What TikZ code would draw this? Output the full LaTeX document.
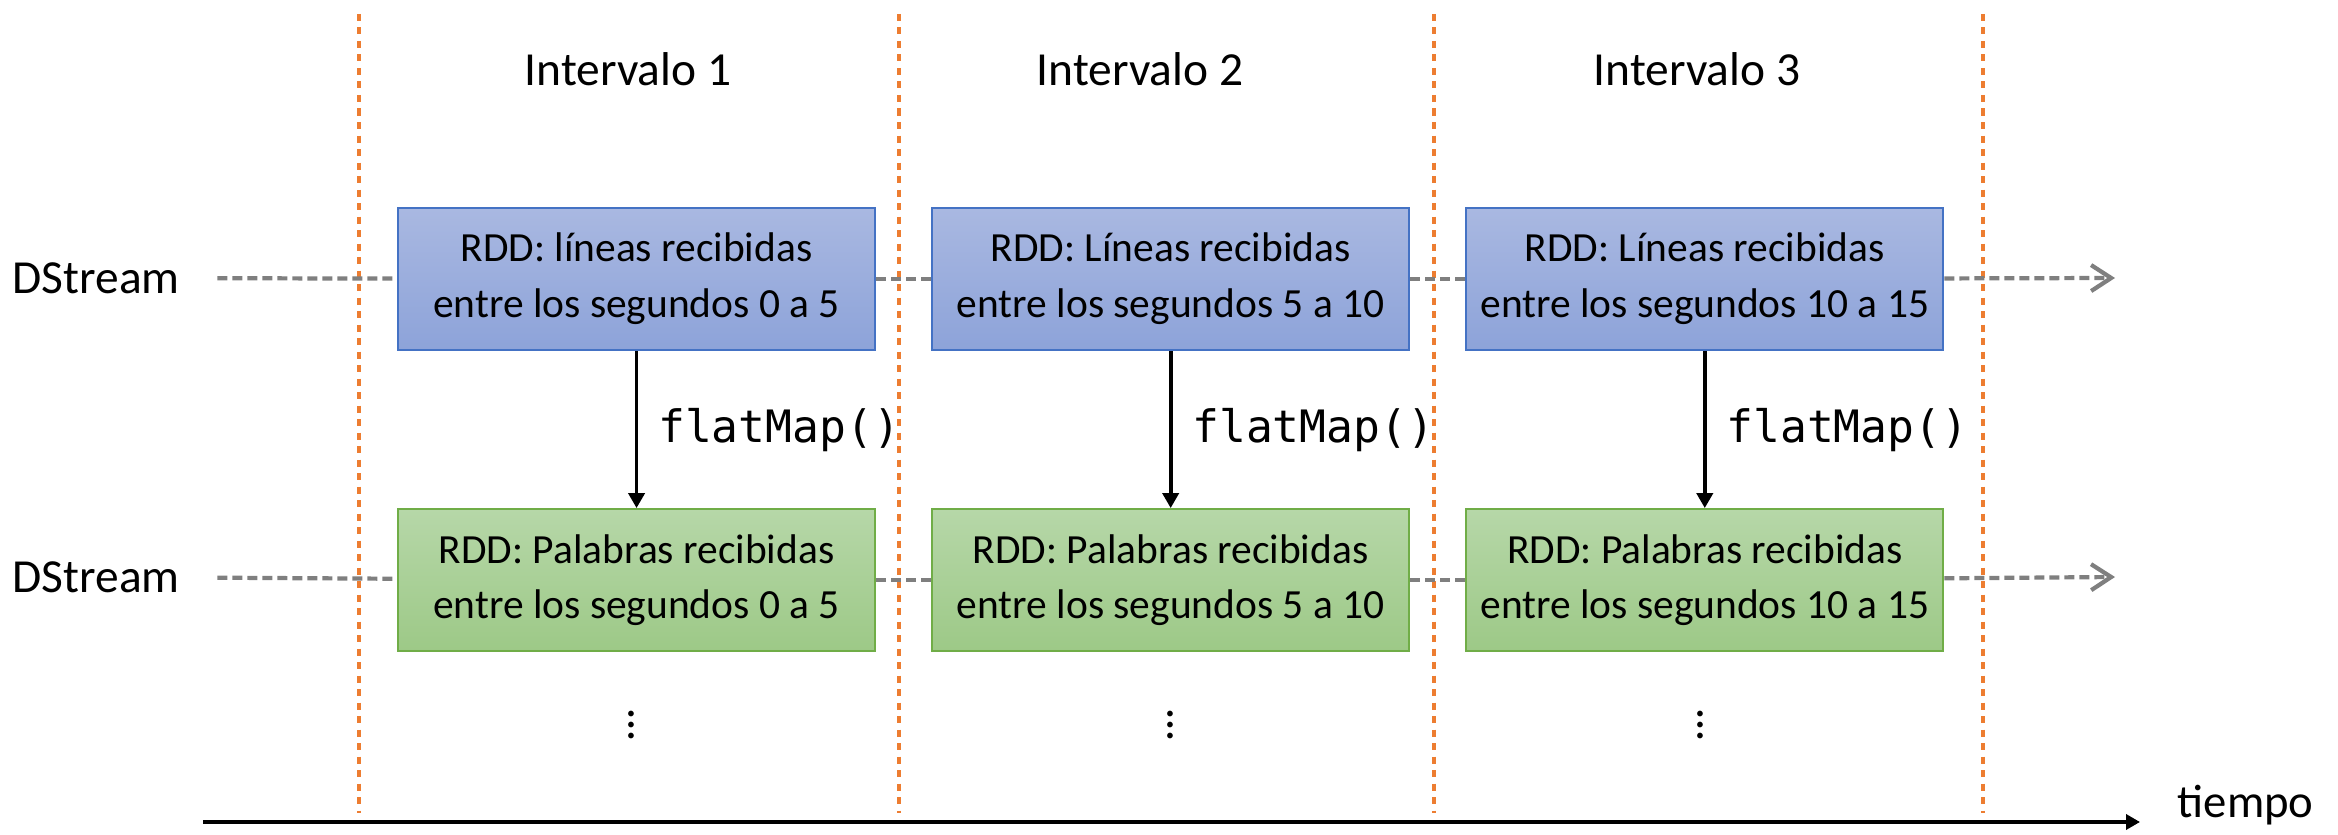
\documentclass[tikz,border=0pt]{standalone}
\usepackage{fontspec}
\setmainfont{Carlito}
\setmonofont{DejaVu Sans Mono}
\usepackage{tikz}
\usetikzlibrary{arrows.meta}
\usetikzlibrary{positioning}

\definecolor{bordeazul}{HTML}{4472C4}
\definecolor{azularriba}{HTML}{A9B8E1}
\definecolor{azulabajo}{HTML}{8DA3D9}
\definecolor{bordeverde}{HTML}{70AD47}
\definecolor{verdearriba}{HTML}{B6D7A8}
\definecolor{verdeabajo}{HTML}{9DC987}
\definecolor{grisflujo}{HTML}{7F7F7F}
\definecolor{naranja}{HTML}{ED7D31}

\newcommand{\puntos}{\vbox{\baselineskip=3.2pt \lineskiplimit=0pt \hbox{.}\hbox{.}\hbox{.}}}

\begin{document}
\begin{tikzpicture}[font=\fontsize{13.5}{16}\selectfont]
		\useasboundingbox (0,0) rectangle (23.38,8.34);
		\tikzstyle{lineas}=[draw=bordeazul, line width=0.6pt, top color=azularriba, bottom color=azulabajo, minimum width=4.77cm, minimum height=1.42cm, align=center, inner sep=0pt, font=\fontsize{11.8}{15.9}\selectfont]
		\tikzstyle{palabras}=[draw=bordeverde, line width=0.6pt, top color=verdearriba, bottom color=verdeabajo, minimum width=4.77cm, minimum height=1.42cm, align=center, inner sep=0pt, font=\fontsize{11.8}{15.9}\selectfont]
		\tikzstyle{flujo}=[draw=grisflujo, line width=1.2pt, dash pattern=on 0.1cm off 0.05cm]
		\tikzstyle{corte}=[draw=naranja, line width=0.9pt, dash pattern=on 0.07cm off 0.065cm]
		\tikzstyle{baja}=[line width=1.1pt, -{Triangle[length=1.5mm,width=1.6mm]}]
		\tikzstyle{codigo}=[font=\ttfamily\fontsize{12.7}{15}\selectfont]
		% limites de los intervalos
		\draw[corte] (3.59,8.20) -- (3.59,0.21);
		\draw[corte] (8.99,8.20) -- (8.99,0.21);
		\draw[corte] (14.34,8.20) -- (14.34,0.21);
		\draw[corte] (19.83,8.20) -- (19.83,0.21);
		\node (int1) at (6.28,7.65) {Intervalo 1};
		\node (int2) at (11.40,7.65) {Intervalo 2};
		\node (int3) at (16.97,7.65) {Intervalo 3};
		% RDDs
		\node[lineas, anchor=north west] (lin1) at (3.97,6.27)
		{RDD: líneas recibidas\\entre los segundos 0 a 5};
		\node[lineas, right=0.55cm of lin1] (lin2)
		{RDD: Líneas recibidas\\entre los segundos 5 a 10};
		\node[lineas, right=0.55cm of lin2] (lin3)
		{RDD: Líneas recibidas\\entre los segundos 10 a 15};
		\node[palabras, below=1.57cm of lin1] (pal1)
		{RDD: Palabras recibidas\\entre los segundos 0 a 5};
		\node[palabras, below=1.57cm of lin2] (pal2)
		{RDD: Palabras recibidas\\entre los segundos 5 a 10};
		\node[palabras, below=1.57cm of lin3] (pal3)
		{RDD: Palabras recibidas\\entre los segundos 10 a 15};
		% DStreams
		\node[anchor=west, inner sep=0pt] (ds1) at (0.12,5.56) {DStream};
		\node[anchor=west, inner sep=0pt] (ds2) at (0.12,2.57) {DStream};
		\coordinate (fin1) at (21.15,5.56);
		\coordinate (fin2) at (21.15,2.57);
		\draw[flujo, shorten <=0.37cm] (ds1) -- (lin1);
		\draw[flujo] (lin1) -- (lin2);
		\draw[flujo] (lin2) -- (lin3);
		\draw[flujo, -{Straight Barb[length=2mm,width=2.6mm]}] (lin3) -- (fin1);
		\draw[flujo, shorten <=0.37cm] (ds2) -- (pal1);
		\draw[flujo] (pal1) -- (pal2);
		\draw[flujo] (pal2) -- (pal3);
		\draw[flujo, -{Straight Barb[length=2mm,width=2.6mm]}] (pal3) -- (fin2);
		% transformaciones
		\draw[baja] (lin1) -- node[codigo, right=0.08cm] {flatMap()} (pal1);
		\draw[baja] (lin2) -- node[codigo, right=0.08cm] {flatMap()} (pal2);
		\draw[baja] (lin3) -- node[codigo, right=0.08cm] {flatMap()} (pal3);
		\node (pts1) at (6.31,1.09) {\puntos};
		\node (pts2) at (11.70,1.09) {\puntos};
		\node (pts3) at (17.00,1.09) {\puntos};
		% eje del tiempo
		\coordinate (t0) at (2.03,0.12);
		\coordinate (t1) at (21.40,0.12);
		\draw[line width=1.2pt, -{Triangle[length=1.4mm,width=1.5mm]}] (t0) -- (t1);
		\node[anchor=base west, inner sep=0pt, font=\fontsize{13.3}{16}\selectfont] (tiempo) at (21.77,0.17) {tiempo};
	\end{tikzpicture}
\end{document}
